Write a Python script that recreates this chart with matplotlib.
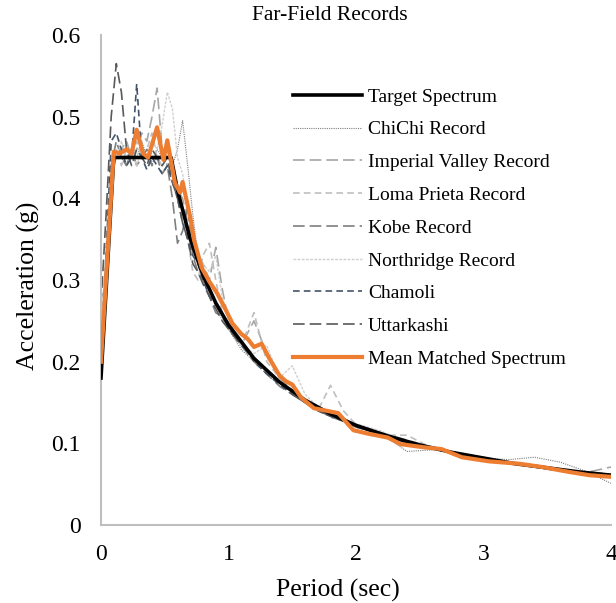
import matplotlib
matplotlib.use("Agg")
import matplotlib.pyplot as plt

plt.rcParams['font.family'] = ['Liberation Serif', 'DejaVu Serif']

# period grid shared by the records (sec)
period = [0, 0.04, 0.08, 0.12, 0.16, 0.2, 0.24, 0.28, 0.32, 0.36, 0.4, 0.44, 0.48, 0.52,
          0.56, 0.6, 0.64, 0.68, 0.72, 0.76, 0.8, 0.85, 0.9, 0.95, 1.0, 1.1, 1.2, 1.3,
          1.4, 1.5, 1.6, 1.7, 1.8, 1.9, 2.0, 2.2, 2.4, 2.6, 2.8, 3.0, 3.2, 3.4, 3.6, 3.8, 4.0]

target_T = [0, 0.1, 0.55, 0.6, 0.7, 0.8, 0.9, 1.0, 1.2, 1.4, 1.6, 1.8, 2.0, 2.25, 2.5,
            2.75, 3.0, 3.25, 3.5, 3.75, 4.0]
target_A = [0.18, 0.45, 0.45, 0.41, 0.35, 0.306, 0.272, 0.245, 0.204, 0.175, 0.153, 0.136,
            0.122, 0.109, 0.098, 0.089, 0.082, 0.075, 0.070, 0.065, 0.061]

chichi = [0.20, 0.30, 0.42, 0.46, 0.45, 0.44, 0.46, 0.45, 0.47, 0.45, 0.44, 0.46, 0.45, 0.47,
          0.44, 0.46, 0.495, 0.44, 0.38, 0.33, 0.30, 0.29, 0.27, 0.25, 0.24, 0.215, 0.20, 0.19,
          0.176, 0.165, 0.152, 0.140, 0.133, 0.127, 0.120, 0.112, 0.090, 0.092, 0.088, 0.082,
          0.080, 0.083, 0.077, 0.066, 0.051]
imperial = [0.21, 0.31, 0.43, 0.45, 0.46, 0.47, 0.45, 0.46, 0.48, 0.47, 0.50, 0.535, 0.46, 0.44,
            0.43, 0.41, 0.40, 0.37, 0.36, 0.33, 0.32, 0.30, 0.34, 0.29, 0.25, 0.22, 0.25, 0.21,
            0.18, 0.165, 0.15, 0.142, 0.137, 0.128, 0.12, 0.113, 0.104, 0.095, 0.088, 0.081,
            0.077, 0.073, 0.068, 0.064, 0.071]
loma = [0.24, 0.33, 0.44, 0.46, 0.44, 0.46, 0.45, 0.47, 0.45, 0.46, 0.48, 0.45, 0.44, 0.46,
        0.43, 0.41, 0.39, 0.35, 0.31, 0.30, 0.33, 0.345, 0.30, 0.26, 0.24, 0.22, 0.26, 0.20,
        0.18, 0.17, 0.15, 0.14, 0.171, 0.14, 0.123, 0.11, 0.11, 0.094, 0.088, 0.082, 0.077,
        0.071, 0.067, 0.064, 0.060]
kobe = [0.19, 0.30, 0.44, 0.47, 0.45, 0.44, 0.46, 0.44, 0.45, 0.46, 0.44, 0.45, 0.43, 0.44,
        0.40, 0.345, 0.36, 0.39, 0.33, 0.31, 0.30, 0.28, 0.26, 0.255, 0.24, 0.22, 0.20, 0.185,
        0.17, 0.16, 0.15, 0.142, 0.132, 0.128, 0.12, 0.112, 0.10, 0.094, 0.086, 0.081, 0.076,
        0.072, 0.066, 0.065, 0.062]
northridge = [0.22, 0.32, 0.44, 0.45, 0.47, 0.45, 0.46, 0.44, 0.46, 0.45, 0.47, 0.46, 0.49, 0.53,
              0.51, 0.45, 0.43, 0.39, 0.35, 0.33, 0.32, 0.31, 0.33, 0.28, 0.25, 0.22, 0.21, 0.22,
              0.18, 0.195, 0.16, 0.145, 0.135, 0.13, 0.124, 0.115, 0.10, 0.096, 0.088, 0.083,
              0.077, 0.073, 0.069, 0.064, 0.060]
chamoli = [0.18, 0.33, 0.47, 0.48, 0.46, 0.44, 0.45, 0.54, 0.45, 0.435, 0.45, 0.44, 0.43, 0.44,
           0.42, 0.40, 0.37, 0.35, 0.33, 0.32, 0.30, 0.28, 0.27, 0.26, 0.24, 0.225, 0.20, 0.185,
           0.172, 0.16, 0.15, 0.14, 0.133, 0.127, 0.12, 0.111, 0.101, 0.094, 0.088, 0.081, 0.076,
           0.072, 0.067, 0.064, 0.061]
uttarkashi = [0.27, 0.38, 0.50, 0.565, 0.53, 0.46, 0.44, 0.46, 0.45, 0.44, 0.46, 0.45, 0.44, 0.45,
              0.42, 0.40, 0.37, 0.35, 0.32, 0.31, 0.295, 0.28, 0.265, 0.25, 0.24, 0.22, 0.205,
              0.19, 0.175, 0.16, 0.15, 0.14, 0.134, 0.128, 0.121, 0.11, 0.102, 0.094, 0.087,
              0.082, 0.076, 0.071, 0.066, 0.063, 0.061]

mean_T = [0, 0.10, 0.15, 0.2, 0.24, 0.28, 0.33, 0.37, 0.44, 0.49, 0.52, 0.58, 0.62, 0.64, 0.70,
          0.73, 0.79, 0.85, 0.91, 0.98, 1.03, 1.1, 1.15, 1.2, 1.26, 1.32, 1.4, 1.45, 1.5, 1.57,
          1.67, 1.86, 1.98, 2.09, 2.25, 2.35, 2.54, 2.67, 2.83, 3.04, 3.28, 3.46, 3.67, 3.83, 4.0]
mean_A = [0.20, 0.457, 0.455, 0.46, 0.455, 0.484, 0.455, 0.45, 0.487, 0.447, 0.471, 0.419, 0.407,
          0.42, 0.377, 0.349, 0.315, 0.298, 0.284, 0.263, 0.247, 0.234, 0.228, 0.218, 0.222,
          0.204, 0.183, 0.176, 0.172, 0.156, 0.143, 0.137, 0.116, 0.112, 0.107, 0.099, 0.095,
          0.093, 0.083, 0.078, 0.075, 0.071, 0.065, 0.061, 0.059]

W, H = 616, 603
fig = plt.figure(figsize=(W / 100, H / 100), dpi=100)
ax = fig.add_axes([101 / W, 1 - 525 / H, 510 / W, 490 / H])

ax.plot(target_T, target_A, color='black', lw=2.6, label='Target Spectrum', zorder=3)
ax.plot(period, chichi, color='#7f7f7f', lw=0.8, ls=(0, (1, 1)), label='ChiChi Record')
ax.plot(period, imperial, color='#a6a6a6', lw=1.2, ls=(0, (7, 3)), label='Imperial Valley Record')
ax.plot(period, loma, color='#bfbfbf', lw=1.2, ls=(0, (4, 2.5)), label='Loma Prieta Record')
ax.plot(period, kobe, color='#7f7f7f', lw=1.2, ls=(0, (7, 3)), label='Kobe Record')
ax.plot(period, northridge, color='#d0d0d0', lw=1.0, ls=(0, (2, 1)), label='Northridge Record')
ax.plot(period, chamoli, color='#44546a', lw=1.2, ls=(0, (4, 2.5)), label='Chamoli')
ax.plot(period, uttarkashi, color='#595959', lw=1.2, ls=(0, (7, 3)), label='Uttarkashi')
ax.plot(mean_T, mean_A, color='#ed7d31', lw=3.0, label='Mean Matched Spectrum', zorder=4)

ax.set_xlim(0, 4)
ax.set_ylim(0, 0.6)
ax.set_xticks([0, 1, 2, 3, 4])
ax.set_xticklabels(['0', '1', '2', '3', '4'])
ax.set_yticks([0, 0.1, 0.2, 0.3, 0.4, 0.5, 0.6])
ax.set_yticklabels(['0', '0.1', '0.2', '0.3', '0.4', '0.5', '0.6'])
ax.tick_params(length=0, labelsize=17)
ax.tick_params(axis='x', pad=14)
ax.tick_params(axis='y', pad=14.5)
for s in ['top', 'right']:
    ax.spines[s].set_visible(False)
for s in ['left', 'bottom']:
    ax.spines[s].set_color('#bfbfbf')
    ax.spines[s].set_linewidth(1.5)

fig.text(338 / W, 1 - 590 / H, 'Period (sec)', fontsize=18.5, ha='center', va='center')
fig.text(28 / W, 1 - 286 / H, 'Acceleration (g)', fontsize=18.5, ha='center', va='center',
         rotation=90)
fig.text(330 / W, 1 - 16 / H, 'Far-Field Records', fontsize=15.5, ha='center', va='center')

fig.legend(loc='upper left', bbox_to_anchor=(293 / W, 1 - 88 / H), frameon=False,
           fontsize=14, handlelength=3.55, handletextpad=0.3, labelspacing=0.78,
           borderpad=0, borderaxespad=0)

fig.savefig('out.png', dpi=100)
